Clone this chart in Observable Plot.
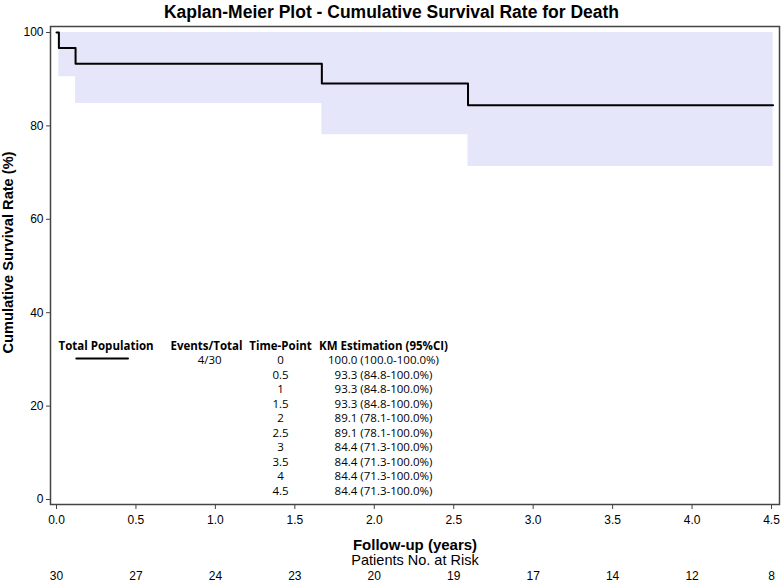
<!DOCTYPE html>
<html><head><meta charset="utf-8">
<script src="https://cdn.jsdelivr.net/npm/d3@7"></script>
<script src="https://cdn.jsdelivr.net/npm/@observablehq/plot@0.6"></script>
<style>
body{margin:0;background:#fff;}
#title{width:783px;height:24px;line-height:24px;text-align:center;font-family:"Liberation Sans",Arial,sans-serif;font-weight:bold;font-size:17.5px;color:#000;}
</style></head>
<body>
<div id="title">Kaplan-Meier Plot - Cumulative Survival Rate for Death</div>
<div id="chart"></div>
<script>
// KM step data
const times = [0, 0.015, 0.12, 1.67, 2.59, 4.51];
const survival = [100, 96.7, 93.3, 89.1, 84.4, 84.4];
const lowerCI = [100, 90.5, 84.8, 78.1, 71.3, 71.3];
const upperCI = [100, 100, 100, 100, 100, 100];

// at-risk table
const riskTimes = [0, 0.5, 1, 1.5, 2, 2.5, 3, 3.5, 4, 4.5];
const riskCounts = [30, 27, 24, 23, 20, 19, 17, 14, 12, 8];

// legend table
const tablePoints = ["0", "0.5", "1", "1.5", "2", "2.5", "3", "3.5", "4", "4.5"];
const tableEst = ["100.0 (100.0-100.0%)", "93.3 (84.8-100.0%)", "93.3 (84.8-100.0%)", "93.3 (84.8-100.0%)",
  "89.1 (78.1-100.0%)", "89.1 (78.1-100.0%)", "84.4 (71.3-100.0%)", "84.4 (71.3-100.0%)",
  "84.4 (71.3-100.0%)", "84.4 (71.3-100.0%)"];
const tableHeaders = ["Total Population", "Events/Total", "Time-Point", "KM Estimation (95%CI)"];
const eventsTotal = "4/30";
const xTicks = [0, 0.5, 1, 1.5, 2, 2.5, 3, 3.5, 4, 4.5];
const yTicks = [0, 20, 40, 60, 80, 100];

const km = times.map((t, i) => ({t, s: survival[i], lo: lowerCI[i], hi: upperCI[i]}));
const band = km.slice(1);

// table layout (data coords)
const colX = [0.312, 0.944, 1.41, 2.058];
const headerY = 32.9, row0Y = 29.8, rowStep = 3.105;
const rows = tablePoints.map((p, i) => ({p, e: tableEst[i], y: row0Y - i * rowStep}));

const sans = '"Liberation Sans",Arial,sans-serif';
const tableFont = '"Open Sans","Noto Sans",sans-serif';

const plot = Plot.plot({
  width: 783, height: 557,
  marginTop: 2, marginBottom: 77, marginLeft: 50, marginRight: 4,
  insetLeft: 6, insetRight: 8, insetTop: 6, insetBottom: 5,
  style: {fontFamily: sans, fontSize: "12px", color: "#000", background: "#fff"},
  x: {domain: [0, 4.5]},
  y: {domain: [0, 100]},
  marks: [
    Plot.areaY(band, {x: "t", y1: "lo", y2: "hi", curve: "step-after", fill: "#e6e6fa"}),
    Plot.line(km, {x: "t", y: "s", curve: "step-after", stroke: "#000", strokeWidth: 2}),
    Plot.frame({stroke: "#444", strokeWidth: 1.5}),
    Plot.axisY({ticks: yTicks, tickSize: 4, tickPadding: 3, label: null, stroke: "#444"}),
    Plot.axisX({ticks: xTicks, tickSize: 5, tickPadding: 6, tickFormat: d3.format(".1f"), label: null, stroke: "#444"}),
    Plot.text(["Cumulative Survival Rate (%)"], {frameAnchor: "left", textAnchor: "middle", dx: -42, dy: -13, rotate: -90, fontWeight: "bold", fontSize: 14.6}),
    Plot.text(["Follow-up (years)"], {frameAnchor: "bottom", dy: 45, fontWeight: "bold", fontSize: 15}),
    Plot.text(["Patients No. at Risk"], {frameAnchor: "bottom", dy: 60, fontSize: 14.5}),
    Plot.text(riskTimes, {x: d => d, frameAnchor: "bottom", dy: 75, text: (d, i) => riskCounts[i], fontSize: 12}),
    // legend table
    Plot.text(tableHeaders, {x: (d, i) => colX[i], y: headerY, text: d => d, fontFamily: tableFont, fontWeight: "bold", fontSize: 11.5}),
    Plot.line([0.125, 0.45], {x: d => d, y: 30.2, stroke: "#000", strokeWidth: 2}),
    Plot.text([eventsTotal], {x: colX[1] + 0.02, y: row0Y, fontFamily: tableFont, fontSize: 11.5}),
    Plot.text(rows, {x: colX[2], y: "y", text: "p", fontFamily: tableFont, fontSize: 11.5}),
    Plot.text(rows, {x: colX[3], y: "y", text: "e", fontFamily: tableFont, fontSize: 11.5})
  ]
});
document.getElementById("chart").appendChild(plot);
</script>
</body></html>
